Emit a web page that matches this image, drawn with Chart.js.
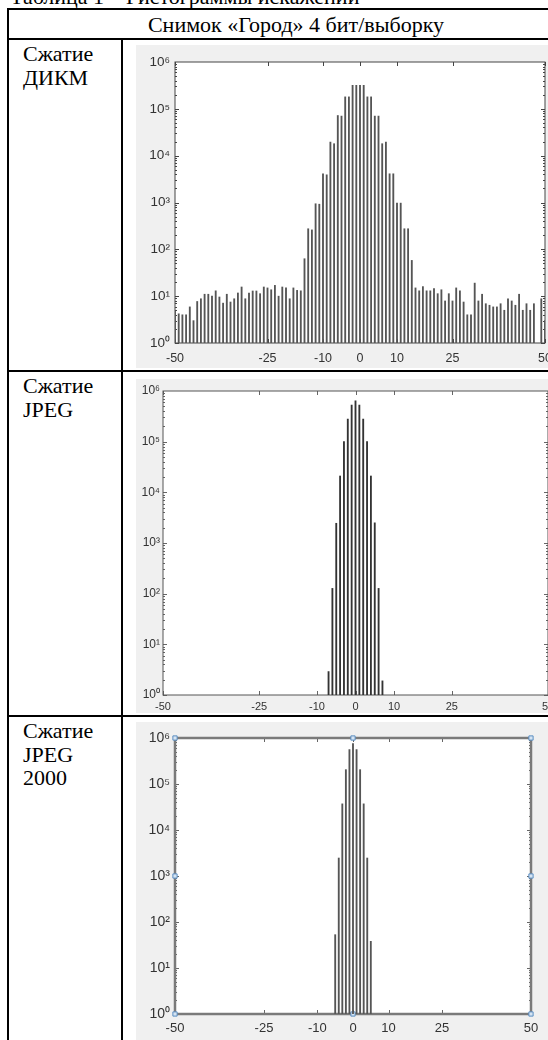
<!DOCTYPE html>
<html>
<head>
<meta charset="utf-8">
<script src="https://cdn.jsdelivr.net/npm/chart.js@4.4.0/dist/chart.umd.min.js"></script>
<style>
  body { margin: 0; width: 548px; height: 1040px; overflow: hidden; background: #fff; position: relative;
         font-family: 'Liberation Serif', 'Times New Roman', serif; }
  .txt { position: absolute; font-size: 22px; line-height: 23.5px; color: #000; white-space: nowrap; }
  .hl { position: absolute; left: 7px; width: 600px; height: 2px; background: #000; }
  .vl { position: absolute; width: 2px; background: #000; }
  canvas { position: absolute; background: #f0f0f0; }
</style>
</head>
<body>
<div class="txt" style="left:10px; top:-15px;">Таблица 1 – Гистограммы искажений</div>
<div class="hl" style="top:8px;"></div>
<div class="txt" style="left:0; width:592px; top:13px; text-align:center;">Снимок «Город» 4 бит/выборку</div>
<div class="hl" style="top:38px;"></div>
<div class="hl" style="top:370px;"></div>
<div class="hl" style="top:715px;"></div>
<div class="vl" style="left:7px; top:8px; height:1040px;"></div>
<div class="vl" style="left:121px; top:38px; height:1010px;"></div>

<div class="txt" style="left:23px; top:42px;">Сжатие<br>ДИКМ</div>
<div class="txt" style="left:23px; top:374px;">Сжатие<br>JPEG</div>
<div class="txt" style="left:23px; top:719px;">Сжатие<br>JPEG<br>2000</div>

<canvas id="dpcmChart" width="450" height="323" style="left:136px; top:45px;"></canvas>
<canvas id="jpegChart" width="450" height="334" style="left:136px; top:379px;"></canvas>
<canvas id="jp2Chart" width="450" height="318" style="left:136px; top:722px;"></canvas>

<script>
// Axis ticks shared by all three histograms
const xTicks = [-50, -25, -10, 0, 10, 25, 50];
const yTicks = [1, 10, 100, 1000, 10000, 100000, 1000000];
const yTickLabels = ['10⁰', '10¹', '10²', '10³', '10⁴', '10⁵', '10⁶'];

// DPCM error histogram, bins -50..50
const dpcmBins = [-50, -49, -48, -47, -46, -45, -44, -43, -42, -41, -40, -39, -38, -37, -36, -35, -34, -33, -32, -31,
    -30, -29, -28, -27, -26, -25, -24, -23, -22, -21, -20, -19, -18, -17, -16, -15, -14, -13, -12, -11,
    -10, -9, -8, -7, -6, -5, -4, -3, -2, -1, 0, 1, 2, 3, 4, 5, 6, 7, 8, 9,
    10, 11, 12, 13, 14, 15, 16, 17, 18, 19, 20, 21, 22, 23, 24, 25, 26, 27, 28, 29,
    30, 31, 32, 33, 34, 35, 36, 37, 38, 39, 40, 41, 42, 43, 44, 45, 46, 47, 48, 49, 50];
const dpcmCounts = [4.8, 4.2, 4, 4, 5.9, 3, 7.7, 8.8, 11, 11, 10, 13, 9.6, 7.1, 11, 7.5, 8.8, 11.7, 15.7, 8.8,
    11.7, 12.9, 12.9, 11.3, 15.7, 15, 13.7, 17, 10, 15.7, 15, 8.8, 15, 13.3, 13, 63, 275, 260, 940, 920,
    4100, 3900, 19500, 18000, 72000, 70000, 180000, 180000, 316000, 316000, 316000, 316000, 180000, 180000, 70000, 70000, 18000, 19500, 4100, 4100,
    970, 970, 275, 275, 58, 15, 13, 16, 13, 13, 14.5, 11.3, 13.7, 7.9, 11.3, 7.9, 15, 13, 7.5, 4,
    4, 19, 7.9, 11, 6.9, 6.4, 5.9, 5.9, 6.9, 5, 8.8, 7.9, 6.4, 11, 5, 6.9, 5, 6.9, null, 8.8, 3];

// JPEG error histogram
const jpegBins = [-7, -6, -5, -4, -3, -2, -1, 0, 1, 2, 3, 4, 5, 6, 7];
const jpegCounts = [2.9, 127, 2450, 21000, 100000, 280000, 525000, 640000, 525000, 280000, 100000, 21000, 2500, 127, 1.9];

// JPEG 2000 error histogram
const jp2Bins = [-5, -4, -3, -2, -1, 0, 1, 2, 3, 4, 5];
const jp2Counts = [53, 2460, 37000, 205000, 560000, 760000, 560000, 205000, 37000, 2460, 38];

// selection handles around the JPEG 2000 axes
const handleX = [-50, 0, 50, -50, 50, -50, 0, 50];
const handleY = [1000000, 1000000, 1000000, 1000, 1000, 1, 1, 1];

const toPoints = (xs, ys) => xs.map((x, i) => ({ x: x, y: ys[i] }));

// white plot area, box and inward ticks like a MATLAB axes
const axesFrame = {
    id: 'axesFrame',
    beforeDraw(chart) {
        const { ctx, chartArea: a } = chart;
        ctx.save();
        ctx.fillStyle = '#fff';
        ctx.fillRect(a.left, a.top, a.right - a.left, a.bottom - a.top);
        ctx.restore();
    },
    beforeDatasetsDraw(chart, args, opts) {
        const { ctx, chartArea: a, scales } = chart;
        const line = (x1, y1, x2, y2) => { ctx.beginPath(); ctx.moveTo(x1, y1); ctx.lineTo(x2, y2); ctx.stroke(); };
        ctx.save();
        ctx.strokeStyle = opts.tickColor;
        ctx.lineWidth = 1;
        xTicks.forEach(v => {
            const px = Math.round(scales.x.getPixelForValue(v)) + 0.5;
            line(px, a.bottom, px, a.bottom - 4);
            line(px, a.top, px, a.top + 4);
        });
        for (let e = 0; e < 6; e++) {
            for (let m = 1; m < 10; m++) {
                const py = Math.round(scales.y.getPixelForValue(m * Math.pow(10, e))) + 0.5;
                const len = m === 1 ? 4 : 2;
                line(a.left, py, a.left + len, py);
                line(a.right, py, a.right - len, py);
            }
        }
        ctx.strokeStyle = opts.color;
        ctx.lineWidth = opts.width;
        ctx.strokeRect(a.left, a.top, a.right - a.left, a.bottom - a.top);
        ctx.restore();
    }
};

function histScales(yWidth, xHeight, fontSize, xPad, yPad) {
    return {
        x: {
            type: 'linear', min: -50, max: 50, offset: false,
            grid: { display: false, drawTicks: false, offset: false }, border: { display: false },
            afterBuildTicks: s => { s.ticks = xTicks.map(v => ({ value: v })); },
            afterFit: s => { s.height = xHeight; },
            ticks: { padding: xPad, maxRotation: 0, autoSkip: false, color: '#333',
                font: { size: fontSize }, callback: v => String(v) }
        },
        y: {
            type: 'logarithmic', min: 1, max: 1000000,
            grid: { display: false, drawTicks: false }, border: { display: false },
            afterBuildTicks: s => { s.ticks = yTicks.map(v => ({ value: v })); },
            afterFit: s => { s.width = yWidth; },
            ticks: { padding: yPad, autoSkip: false, color: '#333',
                font: { size: fontSize + 1 }, callback: (v, i) => yTickLabels[i] }
        }
    };
}

Chart.defaults.font.family = "'Liberation Sans', Arial, sans-serif";
Chart.defaults.animation = false;

// DPCM
new Chart(document.getElementById('dpcmChart').getContext('2d'), {
    type: 'bar',
    data: {
        datasets: [{
            data: toPoints(dpcmBins, dpcmCounts),
            backgroundColor: '#555',
            barThickness: 1.2
        }]
    },
    options: {
        responsive: false,
        devicePixelRatio: 1,
        layout: { padding: { top: 17, right: 41, left: 0, bottom: 0 } },
        scales: histScales(39, 25, 12.5, 8, 5),
        plugins: {
            legend: { display: false }, tooltip: { enabled: false },
            axesFrame: { color: '#444', width: 1, tickColor: '#444' }
        }
    },
    plugins: [axesFrame]
});

// JPEG
new Chart(document.getElementById('jpegChart').getContext('2d'), {
    type: 'bar',
    data: {
        datasets: [{
            data: toPoints(jpegBins, jpegCounts),
            backgroundColor: '#333',
            barThickness: 1.2
        }]
    },
    options: {
        responsive: false,
        devicePixelRatio: 1,
        layout: { padding: { top: 12, right: 38, left: 0, bottom: 0 } },
        scales: histScales(27, 18, 11, 5, 3),
        plugins: {
            legend: { display: false }, tooltip: { enabled: false },
            axesFrame: { color: '#555', width: 1, tickColor: '#666' }
        }
    },
    plugins: [axesFrame]
});

// JPEG 2000
new Chart(document.getElementById('jp2Chart').getContext('2d'), {
    type: 'bar',
    data: {
        datasets: [{
            data: toPoints(jp2Bins, jp2Counts),
            backgroundColor: '#555',
            barThickness: 1.2
        }, {
            type: 'scatter',
            data: toPoints(handleX, handleY),
            pointStyle: 'rect',
            pointRadius: 3,
            borderWidth: 1,
            borderColor: '#5b8ec2',
            backgroundColor: '#d5e4f2',
            clip: false
        }]
    },
    options: {
        responsive: false,
        devicePixelRatio: 1,
        layout: { padding: { top: 16, right: 55, left: 0, bottom: 0 } },
        scales: histScales(39, 26, 13, 7, 5),
        plugins: {
            legend: { display: false }, tooltip: { enabled: false },
            axesFrame: { color: '#7a7a7a', width: 2.5, tickColor: '#666' }
        }
    },
    plugins: [axesFrame]
});
</script>
</body>
</html>
